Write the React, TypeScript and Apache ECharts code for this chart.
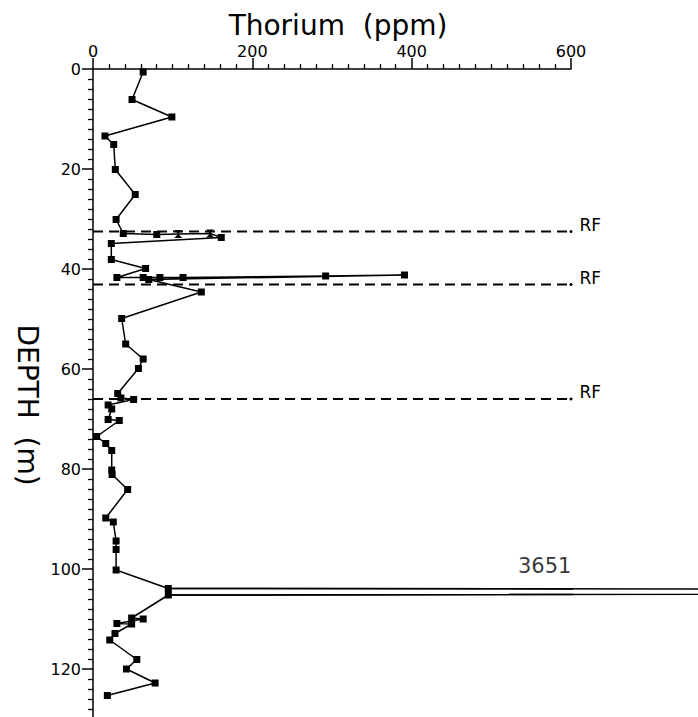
import React, { useEffect, useRef } from 'react';
import * as echarts from 'echarts';

// Thorium (ppm) samples in depth order
const thorium = [63, 49, 99, 15, 26, 28, 53, 29, 38, 80, 107, 147, 161, 23, 23, 66, 30, 63, 84, 113, 292, 391, 70, 136, 36, 41, 63, 57, 31, 35, 51, 19, 23.5, 19, 33, 4.6, 16, 23.5, 23.5, 24, 43.5, 16, 25.5, 29, 29, 29, 94.5, 3651, 94.5, 48.5, 63, 30, 48.5, 27.6, 21, 55, 42, 78, 18];
const depth = [0.6, 6.1, 9.6, 13.4, 15.1, 20.1, 25.1, 30.1, 32.9, 33.1, 33.0, 32.9, 33.7, 34.9, 38.1, 39.9, 41.7, 41.7, 41.7, 41.7, 41.4, 41.2, 42.1, 44.6, 49.9, 55.0, 58.0, 59.9, 64.9, 65.8, 66.1, 67.2, 68.0, 70.1, 70.3, 73.5, 74.9, 76.3, 80.2, 81.1, 84.1, 89.8, 90.6, 94.4, 96.1, 100.2, 103.9, 104.5, 105.2, 109.8, 110.0, 110.9, 111.0, 112.9, 114.2, 118.1, 120.0, 122.8, 125.3];
const hourglassIdx = [10, 11];

// Reference horizons (RF)
const rfDepths = [32.5, 43.1, 66.0];
const rfLabel = 'RF';

// Off-scale value annotation
const offScaleLabel = '3651';
const offScaleLabelAt = [567, 103.4];

const xMin = 0, xMax = 600, xStep = 200;
const yMin = 0, yMax = 130, yStep = 20;
const xTitle = 'Thorium  (ppm)';
const yTitle = 'DEPTH  (m)';

const FONT = 'DejaVu Sans';
const HOURGLASS = 'path://M0,0 L10,0 L0,10 L10,10 Z';

// layout
const GRID_LEFT = 93;
const GRID_TOP = 69;
const GRID_W = 478;
const GRID_H = 650;
const PAGE_W = 698;
const PAGE_H = 717;

export default function App() {
  const ref = useRef<HTMLDivElement>(null);
  useEffect(() => {
    if (!ref.current) return;
    const chart = echarts.init(ref.current, null, { renderer: 'svg' });

    const mainData = thorium.map((t, i) => ({
      value: [t, depth[i]],
      symbol: hourglassIdx.includes(i) ? HOURGLASS : 'rect',
      symbolSize: t > xMax ? 0 : hourglassIdx.includes(i) ? 8 : 7,
    }));

    // the off-scale excursion, drawn on an overlay extending to the page edge
    const offIdx = thorium.findIndex((t) => t > xMax);
    const offData = [offIdx - 1, offIdx, offIdx + 1].map((i) => [thorium[i], depth[i]]);
    const overlayW = PAGE_W - GRID_LEFT;

    const rfSeries = rfDepths.map((d) => ({
      type: 'line',
      silent: true,
      symbol: 'none',
      lineStyle: { color: '#000', width: 2, type: [10, 6] },
      data: [
        { value: [xMin, d] },
        {
          value: [xMax, d],
          symbol: 'circle',
          symbolSize: 3,
          itemStyle: { color: '#000' },
          label: {
            show: true,
            formatter: rfLabel,
            position: 'right',
            distance: 7,
            offset: [0, -7],
            color: '#000',
            fontFamily: FONT,
            fontSize: 17,
          },
        },
      ],
    }));

    chart.setOption({
      animation: false,
      backgroundColor: '#fff',
      grid: [
        { left: GRID_LEFT, top: GRID_TOP, width: GRID_W, height: GRID_H, outerBoundsMode: 'none', containLabel: false },
        { left: GRID_LEFT, top: GRID_TOP, width: overlayW, height: GRID_H, outerBoundsMode: 'none', containLabel: false },
      ],
      xAxis: [
        {
          type: 'value',
          gridIndex: 0,
          position: 'top',
          min: xMin,
          max: xMax,
          interval: xStep,
          splitLine: { show: false },
          axisLine: { show: true, lineStyle: { color: '#000', width: 1.5 } },
          axisTick: { show: true, length: 11, lineStyle: { color: '#000', width: 1.5 } },
          minorTick: { show: true, splitNumber: 10, length: 5, lineStyle: { color: '#000', width: 1.3 } },
          axisLabel: { color: '#000', fontFamily: FONT, fontSize: 16, margin: 10 },
        },
        {
          type: 'value',
          gridIndex: 1,
          show: false,
          min: xMin,
          max: (xMax * overlayW) / GRID_W,
        },
      ],
      yAxis: [
        {
          type: 'value',
          gridIndex: 0,
          inverse: true,
          min: yMin,
          max: yMax,
          interval: yStep,
          splitLine: { show: false },
          axisLine: { show: true, lineStyle: { color: '#000', width: 1.5 } },
          axisTick: { show: true, length: 11, lineStyle: { color: '#000', width: 1.5 } },
          minorTick: { show: true, splitNumber: 10, length: 5, lineStyle: { color: '#000', width: 1.3 } },
          axisLabel: { color: '#000', fontFamily: FONT, fontSize: 16, margin: 12, showMaxLabel: false },
        },
        {
          type: 'value',
          gridIndex: 1,
          show: false,
          inverse: true,
          min: yMin,
          max: yMax,
        },
      ],
      graphic: [
        {
          type: 'text',
          x: 338,
          y: 25,
          style: {
            text: xTitle,
            fill: '#000',
            font: `28px "${FONT}"`,
            align: 'center',
            verticalAlign: 'middle',
          },
        },
        {
          type: 'text',
          x: 27,
          y: 405,
          rotation: -Math.PI / 2,
          style: {
            text: yTitle,
            fill: '#000',
            font: `28px "${FONT}"`,
            align: 'center',
            verticalAlign: 'middle',
          },
        },
      ],
      series: [
        ...rfSeries,
        {
          type: 'line',
          silent: true,
          data: mainData,
          lineStyle: { color: '#000', width: 1.5 },
          itemStyle: { color: '#000' },
        },
        {
          type: 'line',
          silent: true,
          xAxisIndex: 1,
          yAxisIndex: 1,
          symbol: 'none',
          data: offData,
          lineStyle: { color: '#000', width: 1.5 },
        },
        {
          type: 'scatter',
          silent: true,
          symbolSize: 0,
          data: [offScaleLabelAt],
          label: {
            show: true,
            formatter: offScaleLabel,
            position: 'top',
            distance: 10,
            color: '#000',
            fontFamily: FONT,
            fontSize: 21,
          },
        },
      ],
    });
    return () => chart.dispose();
  }, []);
  return (
    <div
      ref={ref}
      style={{ position: 'absolute', left: 0, top: 0, width: PAGE_W, height: PAGE_H, background: '#fff' }}
    />
  );
}
